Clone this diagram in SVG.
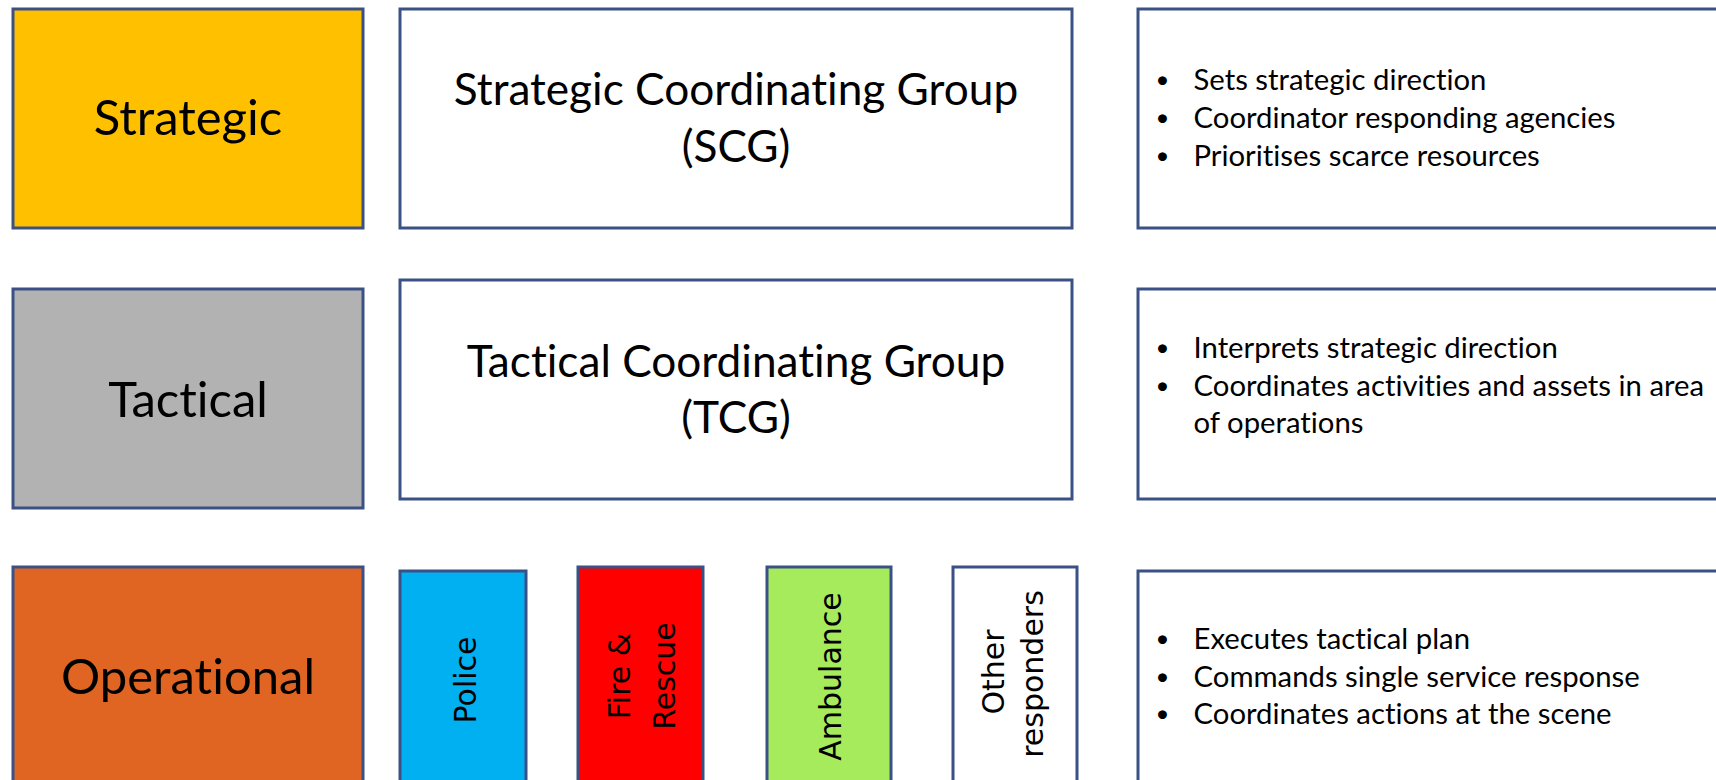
<svg xmlns="http://www.w3.org/2000/svg" width="1716" height="780" viewBox="0 0 1716 780">
  <style>
    .box { stroke: #3B5186; stroke-width: 3; }
    .lbl { font-family: Lato, "Open Sans", "Liberation Sans", sans-serif; fill: #000; font-variant-ligatures: none; font-feature-settings: "liga" 0, "clig" 0; }
    .big { font-size: 49px; text-anchor: middle; }
    .grp { font-size: 44.2px; text-anchor: middle; }
    .bul { font-size: 29.3px; }
    .dot { font-size: 24px; text-anchor: middle; }
    .vert { font-family: "DejaVu Sans", Verdana, sans-serif; font-size: 30px; fill: #000; text-anchor: middle; }
  </style>
  <rect width="1716" height="780" fill="#FFFFFF"/>

  <g id="strategic">
    <rect class="box" x="13" y="9" width="350" height="219" fill="#FFC000"/>
    <text class="lbl big" x="188" y="135">Strategic</text>
  </g>
  <g id="scg">
    <rect class="box" x="400" y="9" width="672" height="219" fill="#FFFFFF"/>
    <text class="lbl grp" x="736" y="105">Strategic Coordinating Group</text>
    <text class="lbl grp" x="736" y="162">(SCG)</text>
  </g>
  <g id="strategic-notes">
    <rect class="box" x="1138" y="9" width="600" height="219" fill="#FFFFFF"/>
    <text class="lbl dot" x="1162.5" y="88">•</text>
    <text class="lbl bul" x="1193.5" y="90">Sets strategic direction</text>
    <text class="lbl dot" x="1162.5" y="126">•</text>
    <text class="lbl bul" x="1193.5" y="128">Coordinator responding agencies</text>
    <text class="lbl dot" x="1162.5" y="164">•</text>
    <text class="lbl bul" x="1193.5" y="166">Prioritises scarce resources</text>
  </g>

  <g id="tactical">
    <rect class="box" x="13" y="289" width="350" height="219" fill="#B2B2B2"/>
    <text class="lbl big" x="188" y="417">Tactical</text>
  </g>
  <g id="tcg">
    <rect class="box" x="400" y="280" width="672" height="219" fill="#FFFFFF"/>
    <text class="lbl grp" x="736" y="377">Tactical Coordinating Group</text>
    <text class="lbl grp" x="736" y="433">(TCG)</text>
  </g>
  <g id="tactical-notes">
    <rect class="box" x="1138" y="289" width="600" height="210" fill="#FFFFFF"/>
    <text class="lbl dot" x="1162.5" y="356">•</text>
    <text class="lbl bul" x="1193.5" y="358">Interprets strategic direction</text>
    <text class="lbl dot" x="1162.5" y="394">•</text>
    <text class="lbl bul" x="1193.5" y="396">Coordinates activities and assets in area</text>
    <text class="lbl bul" x="1193.5" y="433">of operations</text>
  </g>

  <g id="operational">
    <rect class="box" x="13" y="567" width="350" height="220" fill="#E06422"/>
    <text class="lbl big" x="188" y="694">Operational</text>
  </g>
  <g id="police">
    <rect class="box" x="400" y="571" width="126" height="220" fill="#00B0F0"/>
    <text class="vert" transform="translate(476 680) rotate(-90)">Police</text>
  </g>
  <g id="fire-rescue">
    <rect class="box" x="578" y="567" width="125" height="220" fill="#FF0000"/>
    <text class="vert" transform="translate(630 676) rotate(-90)">Fire &amp;</text>
    <text class="vert" transform="translate(675 676) rotate(-90)">Rescue</text>
  </g>
  <g id="ambulance">
    <rect class="box" x="767" y="567" width="124" height="220" fill="#A6EB5C"/>
    <text class="vert" transform="translate(841 676.5) rotate(-90)">Ambulance</text>
  </g>
  <g id="other-responders">
    <rect class="box" x="953" y="567" width="124" height="220" fill="#FFFFFF"/>
    <text class="vert" transform="translate(1004 672) rotate(-90)">Other</text>
    <text class="vert" transform="translate(1043 674) rotate(-90)">responders</text>
  </g>
  <g id="operational-notes">
    <rect class="box" x="1138" y="571" width="600" height="220" fill="#FFFFFF"/>
    <text class="lbl dot" x="1162.5" y="647">•</text>
    <text class="lbl bul" x="1193.5" y="649">Executes tactical plan</text>
    <text class="lbl dot" x="1162.5" y="685">•</text>
    <text class="lbl bul" x="1193.5" y="687">Commands single service response</text>
    <text class="lbl dot" x="1162.5" y="722">•</text>
    <text class="lbl bul" x="1193.5" y="724">Coordinates actions at the scene</text>
  </g>
</svg>
